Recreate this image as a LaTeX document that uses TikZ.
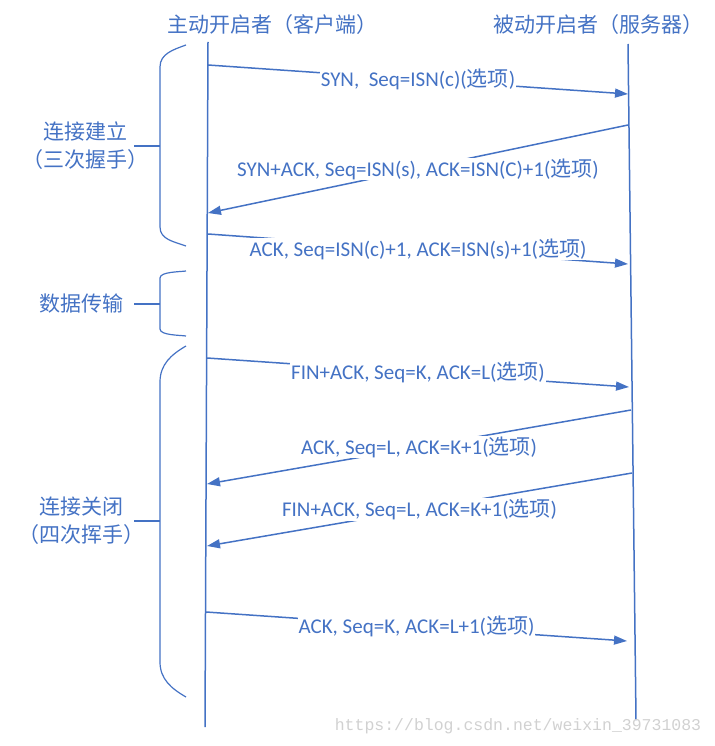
\documentclass[tikz,border=0pt]{standalone}
\usepackage{fontspec}
\usepackage{tikz}
\usetikzlibrary{arrows.meta}
\setmainfont{Carlito}
\newfontfamily\cjk{Noto Sans CJK SC}
\newfontfamily\wmfont{Liberation Mono}
\definecolor{officeblue}{HTML}{4472C4}
\newcommand{\xuanxiang}{({\cjk 选项})}

\tikzset{
  lifeline/.style={officeblue, line width=1.5pt},
  msg/.style={officeblue, line width=1.5pt, -{Triangle[length=13pt,width=9pt]}},
  msglabel/.style={fill=white, inner sep=1pt, text=officeblue, font=\fontsize{21}{24}\selectfont},
  phase/.style={text=officeblue, align=center, inner sep=0pt, font=\cjk\fontsize{21}{28}\selectfont},
  bracket/.style={officeblue, line width=1.2pt},
}

\begin{document}
\begin{tikzpicture}[x=1pt, y=-1pt]
      \useasboundingbox (0,0) rectangle (714,746);
      % the two ends of the connection
      \node [phase] (client) at (272,25) {主动开启者（客户端）};
      \node [phase] (server) at (598,25) {被动开启者（服务器）};
      \coordinate (c0) at (208,42);
      \coordinate (c1) at (205,727);
      \coordinate (s0) at (628,44);
      \coordinate (s1) at (636,720);
      \draw [lifeline] (c0) -- (c1);
      \draw [lifeline] (s0) -- (s1);
      % points on the lifelines
      \coordinate (c-syn) at (208,65);    \coordinate (s-syn) at (628,94);
      \coordinate (s-synack) at (628,125); \coordinate (c-synack) at (208,213);
      \coordinate (c-ack) at (208,234);    \coordinate (s-ack) at (628,264);
      \coordinate (c-fin) at (207,358);    \coordinate (s-fin) at (629,387);
      \coordinate (s-ack2) at (631,410);   \coordinate (c-ack2) at (207,484);
      \coordinate (s-fin2) at (632,473);   \coordinate (c-fin2) at (207,546);
      \coordinate (c-ack3) at (206,612);   \coordinate (s-ack3) at (627,641);
      % messages
      \draw [msg] (c-syn) -- (s-syn) node [msglabel, midway] (m1) {SYN,\ \ Seq=ISN(c)\xuanxiang};
      \draw [msg] (s-synack) -- (c-synack) node [msglabel, midway] (m2) {SYN+ACK, Seq=ISN(s), ACK=ISN(C)+1\xuanxiang};
      \draw [msg] (c-ack) -- (s-ack) node [msglabel, midway] (m3) {ACK, Seq=ISN(c)+1, ACK=ISN(s)+1\xuanxiang};
      \draw [msg] (c-fin) -- (s-fin) node [msglabel, midway] (m4) {FIN+ACK, Seq=K, ACK=L\xuanxiang};
      \draw [msg] (s-ack2) -- (c-ack2) node [msglabel, midway] (m5) {ACK, Seq=L, ACK=K+1\xuanxiang};
      \draw [msg] (s-fin2) -- (c-fin2) node [msglabel, midway] (m6) {FIN+ACK, Seq=L, ACK=K+1\xuanxiang};
      \draw [msg] (c-ack3) -- (s-ack3) node [msglabel, midway] (m7) {ACK, Seq=K, ACK=L+1\xuanxiang};
      % phases on the left
      \draw [bracket] (186,45) to[out=200,in=90] (160,67) -- (160,227) to[out=-90,in=160] (186,246);
      \draw [bracket] (134,146) -- (160,146);
      \node [phase] (open) at (85,146) {连接建立\\（三次握手）};
      \draw [bracket] (186,271) to[out=188,in=90,looseness=0.6] (160,278) -- (160,329) to[out=-90,in=172,looseness=0.6] (186,336);
      \draw [bracket] (134,304) -- (160,304);
      \node [phase] (data) at (81,304) {数据传输};
      \draw [bracket] (186,346) to[out=210,in=90] (160,382) -- (160,662) to[out=-90,in=150] (186,697);
      \draw [bracket] (134,521) -- (160,521);
      \node [phase] (close) at (81,521) {连接关闭\\（四次挥手）};
      \node [text=black!18, font=\wmfont\fontsize{16.5}{18}\selectfont, inner sep=0pt] (mark) at (518,726) {https://blog.csdn.net/weixin\_39731083};
    \end{tikzpicture}
\end{document}
